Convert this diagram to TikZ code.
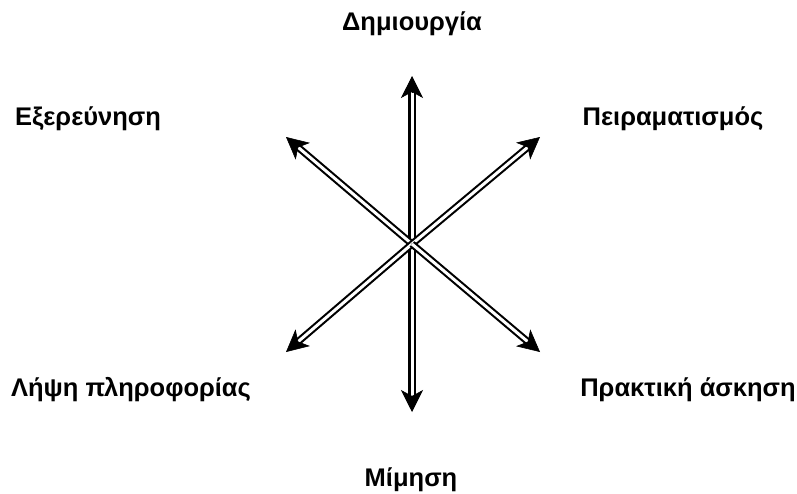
\documentclass[tikz,border=0pt]{standalone}
\usepackage{fontspec}
\setmainfont{Liberation Sans}
\usetikzlibrary{calc,arrows.meta}
\begin{document}
\begin{tikzpicture}[x=1pt,y=-1pt,
  lbl/.style={font=\bfseries\fontsize{25.5}{30}\selectfont, inner sep=0pt, anchor=base},
  shaft/.style={double=white, double distance=3pt, line width=2.1pt, draw=black},
  head/.style={line width=0.6pt, -{Stealth[length=22pt,width=22pt,inset=6pt]}}]
\useasboundingbox (0,0) rectangle (797,493);
\coordinate (c) at (412,244);
\coordinate (tU) at (412,76);
\coordinate (tD) at (412,412);
\coordinate (tUL) at (286,137);
\coordinate (tUR) at (540,137);
\coordinate (tDL) at (286,352);
\coordinate (tDR) at (540,352);
\foreach \t in {tU,tD,tUL,tUR,tDL,tDR}{
  \draw[shaft, shorten >=14pt] (c) -- (\t);
}
\foreach \t in {tU,tD,tUL,tUR,tDL,tDR}{
  \draw[head] ($(\t)!16pt!(c)$) -- (\t);
}
\node[lbl] (Dim) at (412,30) {Δημιουργία};
\node[lbl] (Exe) at (88,125) {Εξερεύνηση};
\node[lbl] (Pei) at (673,125) {Πειραματισμός};
\node[lbl] (Lip) at (131,396) {Λήψη πληροφορίας};
\node[lbl] (Pra) at (688,396) {Πρακτική άσκηση};
\node[lbl] (Mim) at (411,486) {Μίμηση};
\end{tikzpicture}
\end{document}
